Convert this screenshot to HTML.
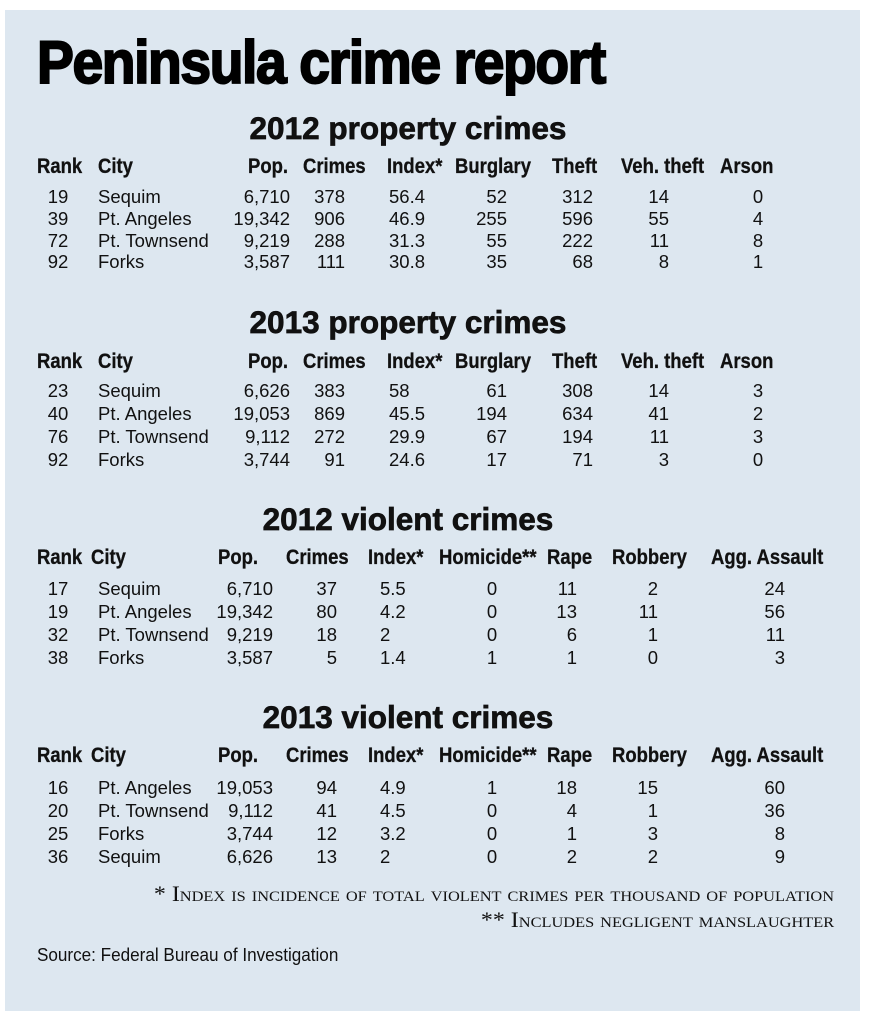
<!DOCTYPE html>
<html><head><meta charset="utf-8"><style>
body{margin:0;width:875px;height:1023px;background:#fff;position:relative;overflow:hidden;font-family:"Liberation Sans",sans-serif;color:#111}
#panel{position:absolute;left:5px;top:10px;width:855px;height:1001px;background:#dde7f0}
.t{position:absolute;white-space:nowrap;height:22px;line-height:22px}
.h{font-weight:bold;font-size:21px;transform:scaleX(0.88);transform-origin:left;-webkit-text-stroke:0.3px #111}
.d{font-size:18.5px}
.c{text-align:center}.r{text-align:right}
.title{position:absolute;left:37px;top:33px;font-weight:bold;font-size:60px;line-height:60px;letter-spacing:-1.5px;transform:scaleX(0.92);transform-origin:left;white-space:nowrap;-webkit-text-stroke:2px #000;color:#000}
.sec{position:absolute;left:158px;width:500px;text-align:center;font-weight:bold;font-size:31.5px;line-height:30px;-webkit-text-stroke:0.7px #111}
.fn{position:absolute;right:41px;font-family:"Liberation Serif",serif;font-variant:small-caps;font-size:22px;white-space:nowrap;line-height:26px;transform:scaleX(1.09);transform-origin:right}
</style></head><body>
<div id="panel"></div>
<div class="title">Peninsula crime report</div>

<div class="sec" style="top:113px">2012 property crimes</div>
<div class="sec" style="top:307px">2013 property crimes</div>
<div class="sec" style="top:504px">2012 violent crimes</div>
<div class="sec" style="top:702px">2013 violent crimes</div>

<div class="t h" style="top:156px;left:37px">Rank</div><div class="t h" style="top:156px;left:98px">City</div><div class="t h" style="top:156px;left:248px">Pop.</div><div class="t h" style="top:156px;left:303px">Crimes</div><div class="t h" style="top:156px;left:387px">Index*</div><div class="t h" style="top:156px;left:455px">Burglary</div><div class="t h" style="top:156px;left:552px">Theft</div><div class="t h" style="top:156px;left:621px">Veh. theft</div><div class="t h" style="top:156px;left:720px">Arson</div>
<div class="t h" style="top:351px;left:37px">Rank</div><div class="t h" style="top:351px;left:98px">City</div><div class="t h" style="top:351px;left:248px">Pop.</div><div class="t h" style="top:351px;left:303px">Crimes</div><div class="t h" style="top:351px;left:387px">Index*</div><div class="t h" style="top:351px;left:455px">Burglary</div><div class="t h" style="top:351px;left:552px">Theft</div><div class="t h" style="top:351px;left:621px">Veh. theft</div><div class="t h" style="top:351px;left:720px">Arson</div>

<div class="t d c" style="top:186px;left:38px;width:40px">19</div><div class="t d" style="top:186px;left:98px">Sequim</div><div class="t d r" style="top:186px;left:190px;width:100px">6,710</div><div class="t d r" style="top:186px;left:285px;width:60px">378</div><div class="t d" style="top:186px;left:389px">56.4</div><div class="t d r" style="top:186px;left:447px;width:60px">52</div><div class="t d r" style="top:186px;left:533px;width:60px">312</div><div class="t d r" style="top:186px;left:609px;width:60px">14</div><div class="t d c" style="top:186px;left:728px;width:60px">0</div>
<div class="t d c" style="top:208px;left:38px;width:40px">39</div><div class="t d" style="top:208px;left:98px">Pt. Angeles</div><div class="t d r" style="top:208px;left:190px;width:100px">19,342</div><div class="t d r" style="top:208px;left:285px;width:60px">906</div><div class="t d" style="top:208px;left:389px">46.9</div><div class="t d r" style="top:208px;left:447px;width:60px">255</div><div class="t d r" style="top:208px;left:533px;width:60px">596</div><div class="t d r" style="top:208px;left:609px;width:60px">55</div><div class="t d c" style="top:208px;left:728px;width:60px">4</div>
<div class="t d c" style="top:230px;left:38px;width:40px">72</div><div class="t d" style="top:230px;left:98px">Pt. Townsend</div><div class="t d r" style="top:230px;left:190px;width:100px">9,219</div><div class="t d r" style="top:230px;left:285px;width:60px">288</div><div class="t d" style="top:230px;left:389px">31.3</div><div class="t d r" style="top:230px;left:447px;width:60px">55</div><div class="t d r" style="top:230px;left:533px;width:60px">222</div><div class="t d r" style="top:230px;left:609px;width:60px">11</div><div class="t d c" style="top:230px;left:728px;width:60px">8</div>
<div class="t d c" style="top:251px;left:38px;width:40px">92</div><div class="t d" style="top:251px;left:98px">Forks</div><div class="t d r" style="top:251px;left:190px;width:100px">3,587</div><div class="t d r" style="top:251px;left:285px;width:60px">111</div><div class="t d" style="top:251px;left:389px">30.8</div><div class="t d r" style="top:251px;left:447px;width:60px">35</div><div class="t d r" style="top:251px;left:533px;width:60px">68</div><div class="t d r" style="top:251px;left:609px;width:60px">8</div><div class="t d c" style="top:251px;left:728px;width:60px">1</div>

<div class="t d c" style="top:380px;left:38px;width:40px">23</div><div class="t d" style="top:380px;left:98px">Sequim</div><div class="t d r" style="top:380px;left:190px;width:100px">6,626</div><div class="t d r" style="top:380px;left:285px;width:60px">383</div><div class="t d" style="top:380px;left:389px">58</div><div class="t d r" style="top:380px;left:447px;width:60px">61</div><div class="t d r" style="top:380px;left:533px;width:60px">308</div><div class="t d r" style="top:380px;left:609px;width:60px">14</div><div class="t d c" style="top:380px;left:728px;width:60px">3</div>
<div class="t d c" style="top:403px;left:38px;width:40px">40</div><div class="t d" style="top:403px;left:98px">Pt. Angeles</div><div class="t d r" style="top:403px;left:190px;width:100px">19,053</div><div class="t d r" style="top:403px;left:285px;width:60px">869</div><div class="t d" style="top:403px;left:389px">45.5</div><div class="t d r" style="top:403px;left:447px;width:60px">194</div><div class="t d r" style="top:403px;left:533px;width:60px">634</div><div class="t d r" style="top:403px;left:609px;width:60px">41</div><div class="t d c" style="top:403px;left:728px;width:60px">2</div>
<div class="t d c" style="top:426px;left:38px;width:40px">76</div><div class="t d" style="top:426px;left:98px">Pt. Townsend</div><div class="t d r" style="top:426px;left:190px;width:100px">9,112</div><div class="t d r" style="top:426px;left:285px;width:60px">272</div><div class="t d" style="top:426px;left:389px">29.9</div><div class="t d r" style="top:426px;left:447px;width:60px">67</div><div class="t d r" style="top:426px;left:533px;width:60px">194</div><div class="t d r" style="top:426px;left:609px;width:60px">11</div><div class="t d c" style="top:426px;left:728px;width:60px">3</div>
<div class="t d c" style="top:449px;left:38px;width:40px">92</div><div class="t d" style="top:449px;left:98px">Forks</div><div class="t d r" style="top:449px;left:190px;width:100px">3,744</div><div class="t d r" style="top:449px;left:285px;width:60px">91</div><div class="t d" style="top:449px;left:389px">24.6</div><div class="t d r" style="top:449px;left:447px;width:60px">17</div><div class="t d r" style="top:449px;left:533px;width:60px">71</div><div class="t d r" style="top:449px;left:609px;width:60px">3</div><div class="t d c" style="top:449px;left:728px;width:60px">0</div>

<div class="t h" style="top:547px;left:37px">Rank</div><div class="t h" style="top:547px;left:91px">City</div><div class="t h" style="top:547px;left:218px">Pop.</div><div class="t h" style="top:547px;left:286px">Crimes</div><div class="t h" style="top:547px;left:368px">Index*</div><div class="t h" style="top:547px;left:439px">Homicide**</div><div class="t h" style="top:547px;left:547px">Rape</div><div class="t h" style="top:547px;left:612px">Robbery</div><div class="t h" style="top:547px;left:711px">Agg. Assault</div>
<div class="t h" style="top:745px;left:37px">Rank</div><div class="t h" style="top:745px;left:91px">City</div><div class="t h" style="top:745px;left:218px">Pop.</div><div class="t h" style="top:745px;left:286px">Crimes</div><div class="t h" style="top:745px;left:368px">Index*</div><div class="t h" style="top:745px;left:439px">Homicide**</div><div class="t h" style="top:745px;left:547px">Rape</div><div class="t h" style="top:745px;left:612px">Robbery</div><div class="t h" style="top:745px;left:711px">Agg. Assault</div>

<div class="t d c" style="top:578px;left:38px;width:40px">17</div><div class="t d" style="top:578px;left:98px">Sequim</div><div class="t d r" style="top:578px;left:173px;width:100px">6,710</div><div class="t d r" style="top:578px;left:277px;width:60px">37</div><div class="t d" style="top:578px;left:380px">5.5</div><div class="t d c" style="top:578px;left:462px;width:60px">0</div><div class="t d r" style="top:578px;left:517px;width:60px">11</div><div class="t d r" style="top:578px;left:598px;width:60px">2</div><div class="t d r" style="top:578px;left:725px;width:60px">24</div>
<div class="t d c" style="top:601px;left:38px;width:40px">19</div><div class="t d" style="top:601px;left:98px">Pt. Angeles</div><div class="t d r" style="top:601px;left:173px;width:100px">19,342</div><div class="t d r" style="top:601px;left:277px;width:60px">80</div><div class="t d" style="top:601px;left:380px">4.2</div><div class="t d c" style="top:601px;left:462px;width:60px">0</div><div class="t d r" style="top:601px;left:517px;width:60px">13</div><div class="t d r" style="top:601px;left:598px;width:60px">11</div><div class="t d r" style="top:601px;left:725px;width:60px">56</div>
<div class="t d c" style="top:624px;left:38px;width:40px">32</div><div class="t d" style="top:624px;left:98px">Pt. Townsend</div><div class="t d r" style="top:624px;left:173px;width:100px">9,219</div><div class="t d r" style="top:624px;left:277px;width:60px">18</div><div class="t d" style="top:624px;left:380px">2</div><div class="t d c" style="top:624px;left:462px;width:60px">0</div><div class="t d r" style="top:624px;left:517px;width:60px">6</div><div class="t d r" style="top:624px;left:598px;width:60px">1</div><div class="t d r" style="top:624px;left:725px;width:60px">11</div>
<div class="t d c" style="top:647px;left:38px;width:40px">38</div><div class="t d" style="top:647px;left:98px">Forks</div><div class="t d r" style="top:647px;left:173px;width:100px">3,587</div><div class="t d r" style="top:647px;left:277px;width:60px">5</div><div class="t d" style="top:647px;left:380px">1.4</div><div class="t d c" style="top:647px;left:462px;width:60px">1</div><div class="t d r" style="top:647px;left:517px;width:60px">1</div><div class="t d r" style="top:647px;left:598px;width:60px">0</div><div class="t d r" style="top:647px;left:725px;width:60px">3</div>

<div class="t d c" style="top:777px;left:38px;width:40px">16</div><div class="t d" style="top:777px;left:98px">Pt. Angeles</div><div class="t d r" style="top:777px;left:173px;width:100px">19,053</div><div class="t d r" style="top:777px;left:277px;width:60px">94</div><div class="t d" style="top:777px;left:380px">4.9</div><div class="t d c" style="top:777px;left:462px;width:60px">1</div><div class="t d r" style="top:777px;left:517px;width:60px">18</div><div class="t d r" style="top:777px;left:598px;width:60px">15</div><div class="t d r" style="top:777px;left:725px;width:60px">60</div>
<div class="t d c" style="top:800px;left:38px;width:40px">20</div><div class="t d" style="top:800px;left:98px">Pt. Townsend</div><div class="t d r" style="top:800px;left:173px;width:100px">9,112</div><div class="t d r" style="top:800px;left:277px;width:60px">41</div><div class="t d" style="top:800px;left:380px">4.5</div><div class="t d c" style="top:800px;left:462px;width:60px">0</div><div class="t d r" style="top:800px;left:517px;width:60px">4</div><div class="t d r" style="top:800px;left:598px;width:60px">1</div><div class="t d r" style="top:800px;left:725px;width:60px">36</div>
<div class="t d c" style="top:823px;left:38px;width:40px">25</div><div class="t d" style="top:823px;left:98px">Forks</div><div class="t d r" style="top:823px;left:173px;width:100px">3,744</div><div class="t d r" style="top:823px;left:277px;width:60px">12</div><div class="t d" style="top:823px;left:380px">3.2</div><div class="t d c" style="top:823px;left:462px;width:60px">0</div><div class="t d r" style="top:823px;left:517px;width:60px">1</div><div class="t d r" style="top:823px;left:598px;width:60px">3</div><div class="t d r" style="top:823px;left:725px;width:60px">8</div>
<div class="t d c" style="top:846px;left:38px;width:40px">36</div><div class="t d" style="top:846px;left:98px">Sequim</div><div class="t d r" style="top:846px;left:173px;width:100px">6,626</div><div class="t d r" style="top:846px;left:277px;width:60px">13</div><div class="t d" style="top:846px;left:380px">2</div><div class="t d c" style="top:846px;left:462px;width:60px">0</div><div class="t d r" style="top:846px;left:517px;width:60px">2</div><div class="t d r" style="top:846px;left:598px;width:60px">2</div><div class="t d r" style="top:846px;left:725px;width:60px">9</div>

<div class="fn" style="top:881px">* Index is incidence of total violent crimes per thousand of population</div>
<div class="fn" style="top:907px">** Includes negligent manslaughter</div>
<div class="t" style="top:944px;left:37px;font-size:18px;transform:scaleX(0.95);transform-origin:left">Source: Federal Bureau of Investigation</div>
</body></html>
